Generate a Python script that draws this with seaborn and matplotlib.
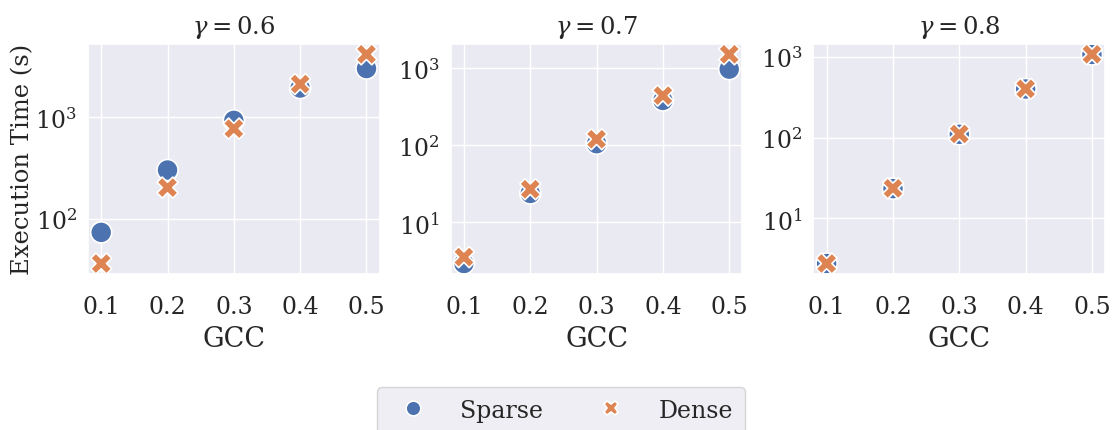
import numpy as np
import pandas as pd
import matplotlib
matplotlib.use("Agg")
import matplotlib.pyplot as plt
import seaborn as sns

gcc = [0.1, 0.2, 0.3, 0.4, 0.5]
gammas = ["0.6", "0.7", "0.8"]
sparse_06 = [73, 301, 929, 1937, 3016]
dense_06 = [36, 202, 771, 2120, 4170]
sparse_07 = [2.94, 23.8, 105, 382, 971]
dense_07 = [3.56, 27.0, 120, 441, 1513]
sparse_08 = [2.77, 23.4, 110, 400, 1070]
dense_08 = [2.77, 23.6, 111, 402, 1075]

series = {
    "0.6": (sparse_06, dense_06),
    "0.7": (sparse_07, dense_07),
    "0.8": (sparse_08, dense_08),
}

sns.set_theme(style="darkgrid")
plt.rcParams["font.family"] = ["DejaVu Serif"]
plt.rcParams["mathtext.fontset"] = "custom"
plt.rcParams["mathtext.rm"] = "DejaVu Serif"
plt.rcParams["mathtext.it"] = "DejaVu Serif:italic"

tick_fs = 17
label_fs = 19.5
ylabel_fs = 17.5
title_fs = 17.5
fig, axes = plt.subplots(1, 3, figsize=(11.13, 4.31), dpi=100)
fig.subplots_adjust(left=0.079, right=0.993, top=0.896, bottom=0.362, wspace=0.243)

pal = sns.color_palette("deep")
for i, (ax, g) in enumerate(zip(axes, gammas)):
    sp, de = series[g]
    df = pd.DataFrame({
        "GCC": gcc * 2,
        "Time": list(sp) + list(de),
        "Method": ["Sparse"] * len(gcc) + ["Dense"] * len(gcc),
    })
    sns.scatterplot(data=df, x="GCC", y="Time", hue="Method", style="Method",
                    markers={"Sparse": "o", "Dense": "X"},
                    palette={"Sparse": pal[0], "Dense": pal[1]},
                    s=230, edgecolor="white", linewidth=1.2, ax=ax,
                    legend=(i == 0))
    ax.set_yscale("log")
    ax.set_title(r"$\gamma = %s$" % g, fontsize=title_fs, pad=8)
    ax.set_xlabel("GCC", fontsize=label_fs, labelpad=5)
    ax.set_ylabel("Execution Time (s)" if i == 0 else "", fontsize=ylabel_fs,
                  labelpad=1)
    ax.set_xticks(gcc)
    ax.tick_params(axis="x", labelsize=tick_fs, pad=9)
    ax.tick_params(axis="y", labelsize=tick_fs, pad=2)
    ax.minorticks_off()

handles, labels = axes[0].get_legend_handles_labels()
axes[0].get_legend().remove()
leg = fig.legend(handles, labels, loc="upper center", bbox_to_anchor=(0.504, 0.1),
                 ncol=2, fontsize=tick_fs, frameon=True, columnspacing=1.9,
                 handletextpad=1.0, borderpad=0.5, borderaxespad=0.0,
                 markerscale=0.7)
leg.get_frame().set_facecolor("#EAEAF2")
leg.get_frame().set_edgecolor("#cccccc")

fig.savefig("out.png", dpi=100)
